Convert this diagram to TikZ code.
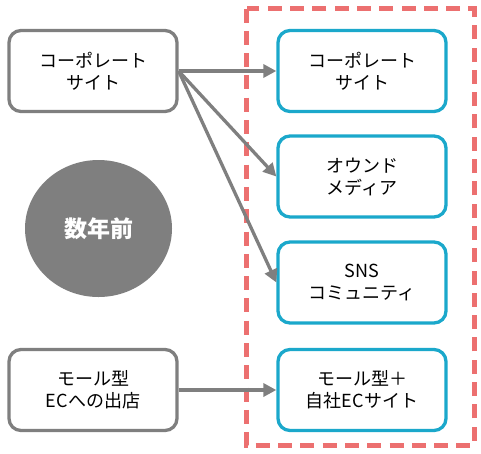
\documentclass[tikz,border=0pt]{standalone}
\usepackage{xcolor}
\usepackage{fontspec}
\usepackage{tikz}
\usetikzlibrary{shapes.geometric, arrows.meta, positioning}
\setmainfont{Noto Sans CJK JP}
\definecolor{pastgray}{HTML}{7F7F7F}
\definecolor{nowblue}{HTML}{1BA8CB}
\definecolor{focusred}{HTML}{EC7070}

\begin{document}
\begin{tikzpicture}[x=1pt, y=-1pt,
    oldbox/.style={draw=pastgray, line width=3.3pt, rounded corners=12pt, fill=white,
        minimum width=168pt, minimum height=81pt, align=center, font=\fontsize{18}{22}\selectfont},
    newbox/.style={oldbox, draw=nowblue},
    flow/.style={draw=pastgray, line width=3.3pt, -{Triangle[length=13pt, width=13pt]}}]
\useasboundingbox (0,0) rectangle (481,453);
\draw[focusred, line width=5pt, dash pattern=on 14pt off 8.3pt] (246.5,8.5) rectangle (474,445.3);
\node[oldbox] (oldsite) at (93,71) {コーポレート\\サイト};
\node[oldbox] (oldmall) at (93,390) {モール型\\ECへの出店};
\node[ellipse, fill=pastgray, minimum width=147pt, minimum height=137pt, text=white,
    font=\fontsize{23}{26}\selectfont\bfseries] (past) at (98.5,228.5) {数年前};
\node[newbox] (newsite) at (362,71) {コーポレート\\サイト};
\node[newbox] (owned) at (362,176.5) {オウンド\\メディア};
\node[newbox] (sns) at (362,282.5) {SNS\\コミュニティ};
\node[newbox] (newmall) at (362,390) {モール型＋\\自社ECサイト};
\draw[flow] (oldsite.east) -- (newsite.west);
\draw[flow] (oldsite.east) -- (owned.west);
\draw[flow] (oldsite.east) -- (sns.west);
\draw[flow] (oldmall.east) -- (newmall.west);
\end{tikzpicture}
\end{document}
